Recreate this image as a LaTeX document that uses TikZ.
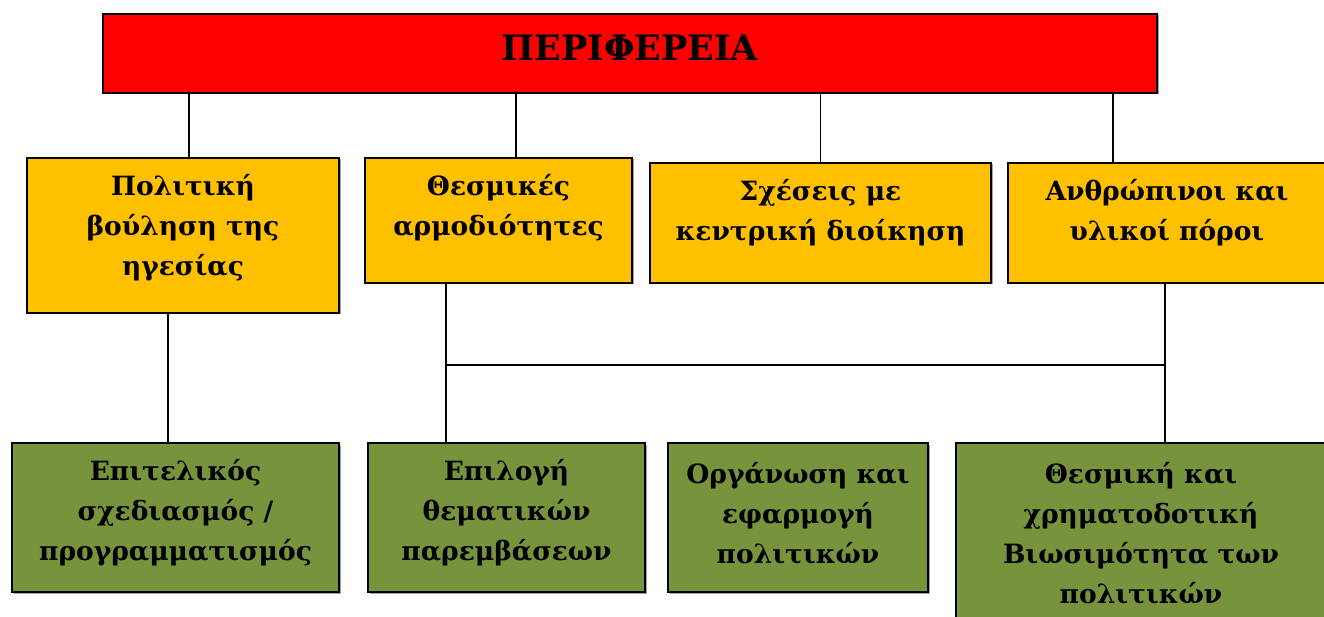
\documentclass[tikz,border=0pt]{standalone}
\usepackage{fontspec}
\setmainfont{DejaVu Serif}
\usetikzlibrary{shadows}
\definecolor{topred}{HTML}{FF0000}
\definecolor{midyellow}{HTML}{FFC000}
\definecolor{lowgreen}{HTML}{77933C}
\begin{document}
\begin{tikzpicture}[x=1pt,y=-1pt,
  box/.style={draw=black, line width=1.6pt, inner sep=0pt, align=center,
    drop shadow={shadow xshift=1.5pt, shadow yshift=-1.5pt, fill=black!45, opacity=0.8}},
  lbl/.style={align=center, inner sep=0pt, font=\bfseries\fontsize{26.5}{40}\selectfont},
  conn/.style={draw=black, line width=1.3pt}]
\useasboundingbox (0,0) rectangle (1324,617);
% top
\node[box, fill=topred, minimum width=1054pt, minimum height=79pt] (red) at (630,53.5) {};
\node[lbl, font=\bfseries\fontsize{35}{40}\selectfont] (redt) at (630,48) {ΠΕΡΙΦΕΡΕΙΑ};
% middle
\node[box, fill=midyellow, minimum width=312pt, minimum height=155pt] (y1) at (183,235.5) {};
\node[lbl] (y1t) at (183,228) {Πολιτική\\βούληση της\\ηγεσίας};
\node[box, fill=midyellow, minimum width=267pt, minimum height=125pt] (y2) at (498.5,220.5) {};
\node[lbl] (y2t) at (498.5,208) {Θεσμικές\\αρμοδιότητες};
\node[box, fill=midyellow, minimum width=341pt, minimum height=120pt] (y3) at (820.5,223) {};
\node[lbl] (y3t) at (820.5,213) {Σχέσεις με\\κεντρική διοίκηση};
\node[box, fill=midyellow, minimum width=318pt, minimum height=120pt] (y4) at (1167,223) {};
\node[lbl] (y4t) at (1167,213) {Ανθρώπινοι και\\υλικοί πόροι};
% bottom
\node[box, fill=lowgreen, minimum width=327pt, minimum height=149pt] (g1) at (175.5,517.5) {};
\node[lbl] (g1t) at (175.5,513) {Επιτελικός\\σχεδιασμός /\\προγραμματισμός};
\node[box, fill=lowgreen, minimum width=277pt, minimum height=149pt] (g2) at (506.5,517.5) {};
\node[lbl] (g2t) at (506.5,513) {Επιλογή\\θεματικών\\παρεμβάσεων};
\node[box, fill=lowgreen, minimum width=260pt, minimum height=149pt] (g3) at (798,517.5) {};
\node[lbl] (g3t) at (798,513) {Οργάνωση και\\εφαρμογή\\πολιτικών};
\node[box, fill=lowgreen, minimum width=370pt, minimum height=187pt] (g4) at (1141,536.5) {};
\node[lbl] (g4t) at (1141,533) {Θεσμική και\\χρηματοδοτική\\Βιωσιμότητα των\\πολιτικών};
% connectors top
\draw[conn] ([xshift=6pt]y1.north) -- ([xshift=6pt]y1.north |- red.south);
\draw[conn] ([xshift=17.5pt]y2.north) -- ([xshift=17.5pt]y2.north |- red.south);
\draw[conn] (y3.north) -- (y3.north |- red.south);
\draw[conn] ([xshift=-54pt]y4.north) -- ([xshift=-54pt]y4.north |- red.south);
% connectors bottom
\draw[conn] ([xshift=-15pt]y1.south) -- ([xshift=-15pt]y1.south |- g1.north);
\draw[conn] ([xshift=-52.5pt]y2.south) -- ([xshift=-52.5pt]y2.south |- g2.north);
\draw[conn] ([xshift=-2pt]y4.south) -- ([xshift=-2pt]y4.south |- g4.north);
\coordinate (hl) at ([xshift=-52.5pt]y2.south |- 0,365);
\coordinate (hr) at ([xshift=-2pt]y4.south |- 0,365);
\draw[conn, line width=2pt] (hl) -- (hr);
\end{tikzpicture}
\end{document}
